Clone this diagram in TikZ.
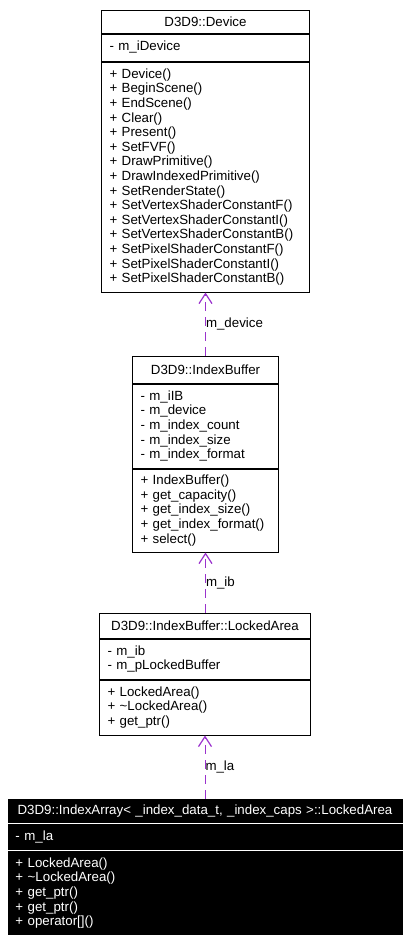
\documentclass[tikz,border=0pt]{standalone}
\usepackage{fontspec}
\setmainfont{Liberation Sans}
\usetikzlibrary{arrows.meta}
\definecolor{relc}{HTML}{9A32CD}

\begin{document}
\begin{tikzpicture}[x=1pt, y=-1pt,
  every node/.style={font=\fontsize{13.3}{14.6}\selectfont},
  part/.style={draw, line width=1pt, anchor=north, align=left, inner xsep=8pt, inner ysep=0pt},
  hdr/.style={part, align=center},
  dark/.style={fill=black, text=white, draw=none},
  assoc/.style={draw=relc, line width=1pt, dash pattern=on 9pt off 6pt,
    -{Straight Barb[length=10pt,width=13pt,line width=1.2pt]}},
  lbl/.style={right, inner sep=0pt, text=black}]
\useasboundingbox (0,0) rectangle (409,940);

% D3D9::Device
\node[hdr, text width=192pt, minimum height=23pt] (dev-t) at (205.5,9.5) {D3D9::Device};
\node[part, text width=192pt, minimum height=27pt] (dev-a) at (dev-t.south) {- m\_iDevice};
\node[part, text width=192pt, minimum height=230pt] (dev-o) at (dev-a.south)
  {+ Device()\\+ BeginScene()\\+ EndScene()\\+ Clear()\\+ Present()\\+ SetFVF()\\
   + DrawPrimitive()\\+ DrawIndexedPrimitive()\\+ SetRenderState()\\
   + SetVertexShaderConstantF()\\+ SetVertexShaderConstantI()\\
   + SetVertexShaderConstantB()\\+ SetPixelShaderConstantF()\\
   + SetPixelShaderConstantI()\\+ SetPixelShaderConstantB()};

% D3D9::IndexBuffer
\node[hdr, text width=130pt, minimum height=27pt] (ib-t) at (205.5,355.5) {D3D9::IndexBuffer};
\node[part, text width=130pt, minimum height=84pt] (ib-a) at (ib-t.south)
  {- m\_iIB\\- m\_device\\- m\_index\_count\\- m\_index\_size\\- m\_index\_format};
\node[part, text width=130pt, minimum height=83pt] (ib-o) at (ib-a.south)
  {+ IndexBuffer()\\+ get\_capacity()\\+ get\_index\_size()\\+ get\_index\_format()\\+ select()};

% D3D9::IndexBuffer::LockedArea
\node[hdr, text width=195pt, minimum height=25pt] (la-t) at (205,612.5) {D3D9::IndexBuffer::LockedArea};
\node[part, text width=195pt, minimum height=40pt] (la-a) at (la-t.south)
  {- m\_ib\\- m\_pLockedBuffer};
\node[part, text width=195pt, minimum height=55pt] (la-o) at (la-a.south)
  {+ LockedArea()\\+ \textasciitilde LockedArea()\\+ get\_ptr()};

% D3D9::IndexArray<...>::LockedArea
\node[hdr, dark, text width=379pt, minimum height=24pt] (ia-t) at (205,798.5)
  {D3D9::IndexArray< \_index\_data\_t, \_index\_caps >::LockedArea};
\node[part, dark, text width=379pt, minimum height=26pt] (ia-a) at (ia-t.south) {- m\_la};
\node[part, dark, text width=379pt, minimum height=84pt] (ia-o) at (ia-a.south)
  {+ LockedArea()\\+ \textasciitilde LockedArea()\\+ get\_ptr()\\+ get\_ptr()\\+ operator[]()};
\draw[white, line width=1pt] (ia-t.south west) -- (ia-t.south east);
\draw[white, line width=1pt] (ia-a.south west) -- (ia-a.south east);

% members
\draw[assoc] (ib-t.north) -- node[lbl] {m\_device} (ib-t.north |- dev-o.south);
\draw[assoc] (la-t.north -| ib-o.south) -- node[lbl] {m\_ib} (ib-o.south);
\draw[assoc] (ia-t.north -| la-o.south) -- node[lbl] {m\_la} (la-o.south);
\end{tikzpicture}
\end{document}
